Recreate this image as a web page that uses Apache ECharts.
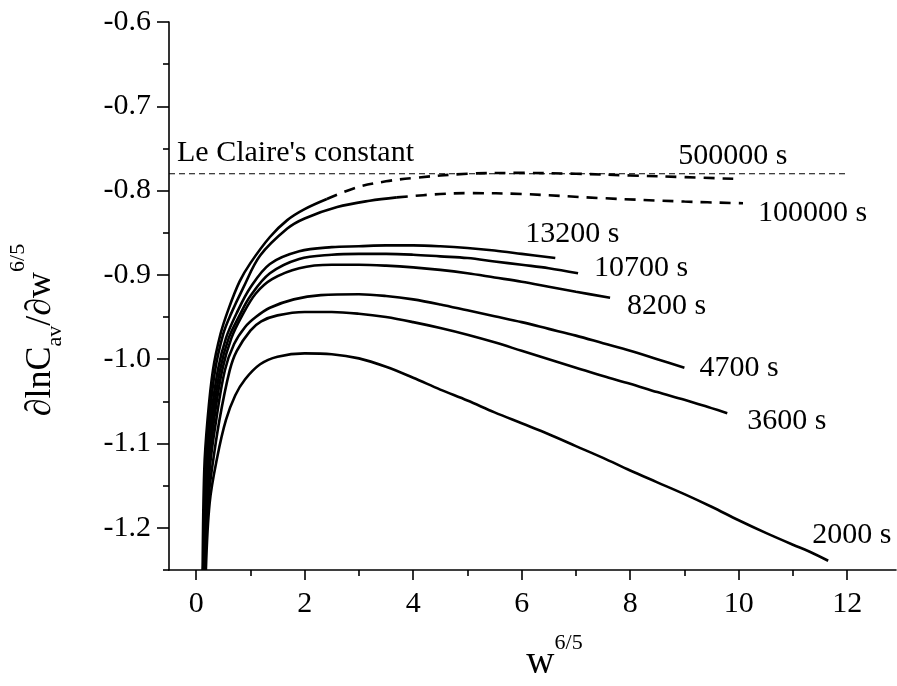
<!DOCTYPE html>
<html><head><meta charset="utf-8">
<script src="https://cdn.jsdelivr.net/npm/echarts@6/dist/echarts.min.js"></script>
<style>html,body{margin:0;padding:0;background:#fff}#c{width:897px;height:686px}</style>
</head><body><div id="c"></div>
<script>
// ---- data ----
const xTickValues = [0, 2, 4, 6, 8, 10, 12];
const xMinorValues = [1, 3, 5, 7, 9, 11];
const yTickValues = [-0.6, -0.7, -0.8, -0.9, -1.0, -1.1, -1.2];
const yMinorValues = [-0.65, -0.75, -0.85, -0.95, -1.05, -1.15, -1.25];
const leClaire = -0.78;
const leClaireX = [-0.5, 12];

const c2000 = [[0.18,-1.25],[0.25,-1.17],[0.39,-1.116],[0.55,-1.072],[0.72,-1.043],[0.9,-1.024],[1.18,-1.006],[1.5,-0.997],[2.0,-0.993],[2.5,-0.994],[3.0,-0.999],[3.5,-1.009],[4.0,-1.022],[4.5,-1.036],[5.0,-1.049],[5.5,-1.063],[6.0,-1.076],[6.5,-1.089],[7.0,-1.103],[7.5,-1.117],[8.0,-1.132],[8.5,-1.146],[9.0,-1.160],[9.5,-1.175],[10.0,-1.191],[10.5,-1.206],[11.0,-1.220],[11.3,-1.228],[11.65,-1.239]];
const c3600 = [[0.16,-1.25],[0.22,-1.17],[0.29,-1.131],[0.43,-1.072],[0.62,-1.013],[0.75,-0.990],[1.0,-0.966],[1.2,-0.955],[1.5,-0.948],[2.0,-0.944],[2.5,-0.944],[3.0,-0.946],[3.5,-0.950],[4.0,-0.956],[4.5,-0.963],[5.0,-0.971],[5.5,-0.980],[6.0,-0.990],[6.5,-1.000],[7.0,-1.010],[7.5,-1.020],[8.0,-1.029],[8.5,-1.039],[9.0,-1.048],[9.5,-1.058],[9.79,-1.064]];
const c4700 = [[0.15,-1.25],[0.25,-1.131],[0.37,-1.072],[0.53,-1.013],[0.7,-0.982],[0.9,-0.962],[1.1,-0.950],[1.36,-0.939],[1.8,-0.929],[2.3,-0.924],[3.0,-0.923],[3.5,-0.925],[4.0,-0.929],[4.5,-0.935],[5.0,-0.942],[5.5,-0.949],[6.0,-0.956],[6.5,-0.964],[7.0,-0.972],[7.5,-0.981],[8.0,-0.990],[8.5,-1.000],[9.0,-1.010]];
const c8200 = [[0.14,-1.25],[0.23,-1.131],[0.33,-1.072],[0.48,-1.013],[0.65,-0.975],[0.85,-0.948],[1.1,-0.922],[1.4,-0.905],[1.9,-0.892],[2.5,-0.888],[3.0,-0.888],[3.5,-0.889],[4.0,-0.891],[4.5,-0.894],[5.0,-0.898],[5.5,-0.903],[6.0,-0.908],[6.5,-0.914],[7.0,-0.920],[7.63,-0.927]];
const c10700 = [[0.13,-1.25],[0.21,-1.131],[0.30,-1.072],[0.44,-1.013],[0.6,-0.975],[0.8,-0.948],[1.0,-0.925],[1.36,-0.898],[1.9,-0.881],[2.5,-0.876],[3.0,-0.875],[3.5,-0.875],[4.0,-0.876],[4.5,-0.878],[5.0,-0.880],[5.5,-0.884],[6.0,-0.888],[6.5,-0.892],[7.04,-0.898]];
const c13200 = [[0.13,-1.25],[0.19,-1.131],[0.27,-1.072],[0.40,-1.013],[0.55,-0.975],[0.75,-0.945],[1.0,-0.915],[1.36,-0.887],[1.9,-0.872],[2.5,-0.867],[3.0,-0.866],[3.5,-0.865],[4.0,-0.865],[4.5,-0.866],[5.0,-0.868],[5.5,-0.871],[6.0,-0.875],[6.62,-0.880]];
const c100000Solid = [[0.13,-1.25],[0.17,-1.131],[0.24,-1.072],[0.35,-1.013],[0.5,-0.970],[0.63,-0.948],[0.87,-0.915],[1.18,-0.877],[1.68,-0.845],[2.0,-0.833],[2.6,-0.8195],[3.2,-0.812],[3.7,-0.808]];
const c100000Dash = [[3.7,-0.808],[4.5,-0.804],[5.05,-0.803],[6.0,-0.804],[7.5,-0.809],[9.0,-0.813],[10.08,-0.815]];
const c500000Solid = [[0.12,-1.25],[0.15,-1.131],[0.21,-1.072],[0.31,-1.013],[0.45,-0.970],[0.6,-0.940],[0.8,-0.908],[1.0,-0.886],[1.36,-0.855],[1.68,-0.835],[2.0,-0.822],[2.41,-0.810]];
const c500000Dash = [[2.41,-0.810],[2.97,-0.796],[3.5,-0.789],[4.0,-0.785],[5.0,-0.780],[6.0,-0.779],[7.0,-0.780],[8.0,-0.782],[9.0,-0.784],[9.9,-0.786]];

const curveNames = ['2000 s','3600 s','4700 s','8200 s','10700 s','13200 s','100000 s','500000 s'];
const labelText = "Le Claire's constant";

// ---- chart ----
const FONT = 'Liberation Serif';
const chart = echarts.init(document.getElementById('c'), null, {renderer: 'canvas'});

function curve(data, dashed) {
  return {
    type: 'line', data: data, showSymbol: false, symbol: 'none',
    smooth: 0.35, animation: false, silent: true,
    lineStyle: {color: '#000', width: 2.6, type: dashed ? [11, 8] : 'solid', cap: 'butt'},
    z: 3
  };
}

const axisLineStyle = {color: '#000', width: 1.6};
const option = {
  animation: false,
  backgroundColor: '#fff',
  grid: {left: 169, top: 22, width: 727, height: 548, containLabel: false, outerBoundsMode: 'none'},
  xAxis: [{
    type: 'value', min: -0.5, max: 12.9, position: 'bottom',
    axisLine: {show: true, onZero: false, lineStyle: axisLineStyle},
    axisTick: {show: true, customValues: xTickValues, length: 10, lineStyle: axisLineStyle},
    axisLabel: {customValues: xTickValues, fontFamily: FONT, fontSize: 30, color: '#000', margin: 19},
    splitLine: {show: false},
    name: '{m|w}{sup|6/5}', nameLocation: 'middle', nameGap: 62,
    nameTextStyle: {
      fontFamily: FONT, color: '#000', padding: [0, 0, 0, 44],
      rich: {
        m: {fontFamily: FONT, fontSize: 39, color: '#000'},
        sup: {fontFamily: FONT, fontSize: 22, color: '#000', padding: [0, 0, 40, 0]}
      }
    }
  }, {
    type: 'value', min: -0.5, max: 12.9, position: 'bottom',
    axisLine: {show: false, onZero: false},
    axisTick: {show: true, customValues: xMinorValues, length: 6, lineStyle: axisLineStyle},
    axisLabel: {show: false}, splitLine: {show: false}
  }],
  yAxis: [{
    type: 'value', min: -1.25, max: -0.6, position: 'left',
    axisLine: {show: true, onZero: false, lineStyle: axisLineStyle},
    axisTick: {show: true, customValues: yTickValues, length: 12, lineStyle: axisLineStyle},
    axisLabel: {customValues: yTickValues, formatter: v => v.toFixed(1), fontFamily: FONT, fontSize: 30, color: '#000', margin: 18},
    splitLine: {show: false},
    name: '{m|\u2202lnC}{sub|av}{m|/\u2202w}{sup|6/5}', nameLocation: 'middle', nameRotate: 90, nameGap: 95,
    nameTextStyle: {
      fontFamily: FONT, color: '#000', padding: [0, 68, 0, 0],
      rich: {
        m: {fontFamily: FONT, fontSize: 36, color: '#000'},
        sub: {fontFamily: FONT, fontSize: 22, color: '#000', padding: [30, 0, 0, 0]},
        sup: {fontFamily: FONT, fontSize: 22, color: '#000', padding: [0, 0, 45, 0]}
      }
    }
  }, {
    type: 'value', min: -1.25, max: -0.6, position: 'left',
    axisLine: {show: false, onZero: false},
    axisTick: {show: true, customValues: yMinorValues, length: 6, lineStyle: axisLineStyle},
    axisLabel: {show: false}, splitLine: {show: false}
  }],
  series: [
    {
      type: 'line', data: [[leClaireX[0], leClaire], [leClaireX[1], leClaire]],
      showSymbol: false, symbol: 'none', silent: true,
      lineStyle: {color: '#000', width: 1.2, type: [6, 4]}
    },
    curve(c2000), curve(c3600), curve(c4700), curve(c8200), curve(c10700), curve(c13200),
    curve(c100000Solid), curve(c100000Dash, true),
    curve(c500000Solid), curve(c500000Dash, true)
  ]
};
chart.setOption(option);

// text annotations anchored to data points through the chart's own scales
const ends = [c2000, c3600, c4700, c8200, c10700, c13200, c100000Dash, c500000Dash];
const offsets = [[-16,-26],[20,8],[15,0],[17,8],[16,-5],[-30,-24],[15,10],[-55,-23]];
const texts = ends.map((arr, i) => ({text: curveNames[i], at: arr[arr.length - 1], off: offsets[i]}));
texts.push({text: labelText, at: [leClaireX[0], leClaire], off: [8, -21]});
chart.setOption({
  graphic: texts.map(t => {
    const p = chart.convertToPixel({xAxisIndex: 0, yAxisIndex: 0}, t.at);
    return {
      type: 'text', x: p[0] + t.off[0], y: p[1] + t.off[1], silent: true, z: 10,
      style: {text: t.text, fill: '#000', font: '30px "Liberation Serif"', textAlign: 'left', textVerticalAlign: 'middle'}
    };
  })
});
</script>
</body></html>
